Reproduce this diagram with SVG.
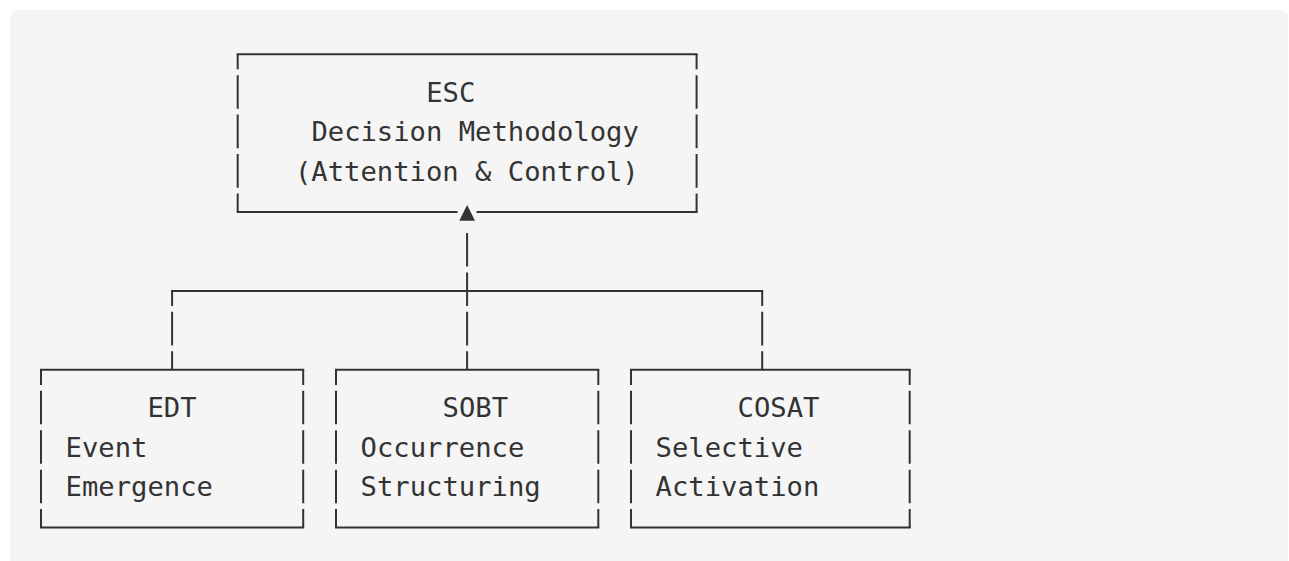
<svg xmlns="http://www.w3.org/2000/svg" width="1289" height="561" viewBox="0 0 1289 561">
  <style>
    .bg { fill: #f5f5f5; }
    .h { stroke: #333333; stroke-width: 2; fill: none; }
    .v { stroke: #333333; stroke-width: 2; fill: none; stroke-dasharray: 33.6 5.85; stroke-dashoffset: 18.5; }
    .v0 { stroke: #333333; stroke-width: 2; fill: none; stroke-dasharray: 33.6 5.85; stroke-dashoffset: 0; }
    .t { font-family: "DejaVu Sans Mono", "Liberation Mono", monospace; font-size: 27.2px; fill: #333333; }
    .arrow { fill: #333333; }
  </style>
  <rect class="bg" x="10" y="10" width="1278" height="600" rx="8"/>

  <g id="esc">
    <path class="h" d="M236.7 54.2 H697.6 M236.7 212 H457.5 M476.5 212 H697.6"/>
    <path class="v" d="M237.7 54.2 V212 M696.6 54.2 V212"/>
    <text class="t" x="426.2" y="101.8">ESC</text>
    <text class="t" x="311.4" y="141.2">Decision Methodology</text>
    <text class="t" x="295.0" y="180.6">(Attention &amp; Control)</text>
  </g>

  <g id="edt">
    <path class="h" d="M40 369.8 H304.2 M40 527.6 H304.2"/>
    <path class="v" d="M41 369.8 V527.6 M303.2 369.8 V527.6"/>
    <text class="t" x="147.5" y="417.3">EDT</text>
    <text class="t" x="65.6" y="456.7">Event</text>
    <text class="t" x="65.6" y="496.1">Emergence</text>
  </g>

  <g id="sobt">
    <path class="h" d="M335 369.8 H599.3 M335 527.6 H599.3"/>
    <path class="v" d="M336 369.8 V527.6 M598.3 369.8 V527.6"/>
    <text class="t" x="442.6" y="417.3">SOBT</text>
    <text class="t" x="360.6" y="456.7">Occurrence</text>
    <text class="t" x="360.6" y="496.1">Structuring</text>
  </g>

  <g id="cosat">
    <path class="h" d="M630 369.8 H910.7 M630 527.6 H910.7"/>
    <path class="v" d="M631 369.8 V527.6 M909.7 369.8 V527.6"/>
    <text class="t" x="737.6" y="417.3">COSAT</text>
    <text class="t" x="655.6" y="456.7">Selective</text>
    <text class="t" x="655.6" y="496.1">Activation</text>
  </g>

  <g id="connectors">
    <polygon class="arrow" points="459.3,220.7 475,220.7 467.1,205"/>
    <path class="v0" d="M467.1 232.95 V369.8"/>
    <path class="h" d="M171.1 290.9 H763.2"/>
    <path class="v" d="M172.1 290.9 V369.8 M762.2 290.9 V369.8"/>
  </g>
</svg>
